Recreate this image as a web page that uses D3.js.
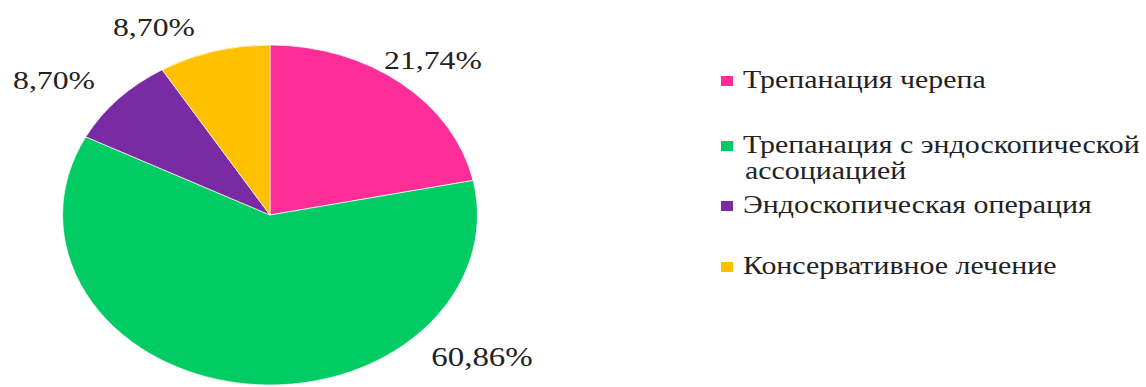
<!DOCTYPE html>
<html><head><meta charset="utf-8">
<script src="https://cdn.jsdelivr.net/npm/d3@7"></script>
<style>html,body{margin:0;padding:0;background:#fff;} text{font-family:'Liberation Serif','Times New Roman',serif;}</style>
</head><body>
<svg id="chart" width="1146" height="387"></svg>
<script>
const categories = ["Трепанация черепа", "Трепанация с эндоскопической ассоциацией", "Эндоскопическая операция", "Консервативное лечение"];
const values = [21.74, 60.86, 8.70, 8.70];
const labels = ["21,74%", "60,86%", "8,70%", "8,70%"];
const colors = ["#FF2D98", "#00CC63", "#7A2BA3", "#FFC000"];
const legendLines = [["Трепанация черепа"], ["Трепанация с эндоскопической", "ассоциацией"], ["Эндоскопическая операция"], ["Консервативное лечение"]];

const SX = 1.22; // horizontal stretch of the original image
const svg = d3.select("#chart");
const root = svg.append("g").attr("transform", `scale(${SX},1)`);

const cx = 270 / SX, cy = 215, R = 170;
const pie = d3.pie().sort(null).value(d => d);
const arcs = pie(values);
const arc = d3.arc().innerRadius(0).outerRadius(R);

const pg = root.append("g").attr("transform", `translate(${cx},${cy})`);
pg.selectAll("path").data(arcs).enter().append("path")
  .attr("d", arc).attr("fill", (d, i) => colors[i])
  .attr("stroke", "#fff").attr("stroke-width", 0.6);

// label placement (layout): position in reference pixels of text centre / baseline
const labelPos = [[433, 69], [482, 366], [54, 89], [154, 36]];
const labelSize = [26, 27, 26, 26];
root.selectAll("text.lbl").data(labels).enter().append("text")
  .attr("class", "lbl")
  .attr("x", (d, i) => labelPos[i][0] / SX)
  .attr("y", (d, i) => labelPos[i][1])
  .attr("text-anchor", "middle")
  .attr("font-size", (d, i) => labelSize[i])
  .attr("fill", "#222")
  .text(d => d);

// legend
const legY = [88, 153, 213, 274];
const lg = root.append("g");
categories.forEach((c, i) => {
  const y = legY[i];
  lg.append("rect").attr("x", 721 / SX).attr("y", y - 12).attr("width", 12 / SX).attr("height", 10)
    .attr("fill", colors[i]);
  legendLines[i].forEach((ln, j) => {
    lg.append("text").attr("x", (j === 0 ? 743 : 745) / SX).attr("y", y + j * 26)
      .attr("font-size", 24.5).attr("fill", "#222")
      .text(ln);
  });
});
</script>
</body></html>
